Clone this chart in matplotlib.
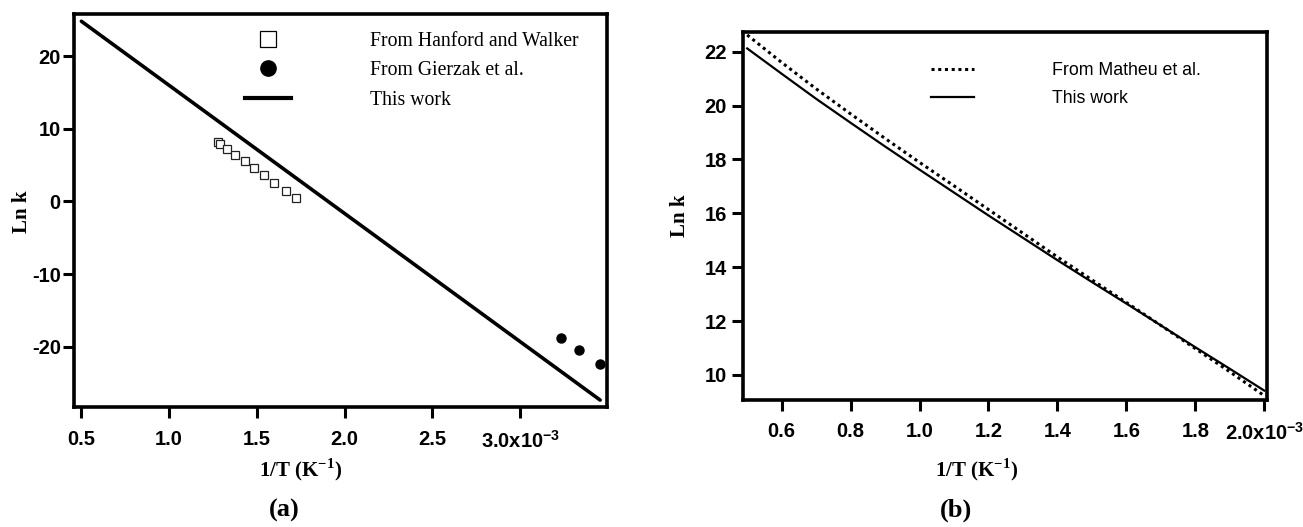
import matplotlib
matplotlib.use("Agg")
import matplotlib.pyplot as plt
from matplotlib.lines import Line2D

plt.rcParams["axes.unicode_minus"] = False

# ---- data (1/T in units of 1e-3 K^-1) ----
# panel (a)
hanford_x = [1.278, 1.288, 1.332, 1.377, 1.430, 1.481, 1.538, 1.599, 1.663, 1.720]
hanford_y = [8.18, 7.96, 7.21, 6.44, 5.61, 4.65, 3.68, 2.58, 1.48, 0.46]
gierzak_x = [3.231, 3.337, 3.453]
gierzak_y = [-18.76, -20.46, -22.34]
work_a_x = [0.5, 3.455]
work_a_y = [24.8, -27.35]
ticks_a = [0.5, 1.0, 1.5, 2.0, 2.5, 3.0]
ticklabels_a = ["0.5", "1.0", "1.5", "2.0", "2.5", "3.0x10$^{\\mathregular{-3}}$"]
yticks_a = [-20, -10, 0, 10, 20]

# panel (b)
invT_b = [0.5, 0.6, 0.7, 0.8, 0.9, 1.0, 1.1, 1.2, 1.3, 1.4, 1.5, 1.6, 1.7, 1.8, 1.9, 2.0]
matheu_y = [22.62, 21.60, 20.62, 19.69, 18.78, 17.89, 17.02, 16.14, 15.26, 14.38,
            13.53, 12.69, 11.84, 10.98, 10.12, 9.23]
work_b_y = [22.12, 21.18, 20.25, 19.36, 18.48, 17.62, 16.77, 15.92, 15.09, 14.26,
            13.45, 12.65, 11.84, 11.03, 10.23, 9.42]
ticks_b = [0.6, 0.8, 1.0, 1.2, 1.4, 1.6, 1.8, 2.0]
ticklabels_b = ["0.6", "0.8", "1.0", "1.2", "1.4", "1.6", "1.8", "2.0x10$^{\\mathregular{-3}}$"]
yticks_b = [10, 12, 14, 16, 18, 20, 22]

SANS = "Liberation Sans"
SERIF = "Liberation Serif"


def style_axes(ax, ypad):
    for s in ax.spines.values():
        s.set_linewidth(2.6)
    ax.tick_params(axis="both", which="major", direction="out", length=8, width=2.2,
                   labelsize=14.5)
    ax.tick_params(axis="x", pad=8)
    ax.tick_params(axis="y", pad=ypad)
    for lab in ax.get_xticklabels() + ax.get_yticklabels():
        lab.set_fontfamily(SANS)
        lab.set_fontweight("bold")


fig = plt.figure(figsize=(13.03, 5.27), dpi=100)

# ---------------- panel (a) ----------------
ax1 = fig.add_axes([0.0568, 0.2271, 0.4093, 0.7463])
ax1.plot(work_a_x, work_a_y, color="black", lw=2.6, solid_capstyle="round")
ax1.plot(hanford_x, hanford_y, ls="none", marker="s", ms=5.7, mfc="white",
         mec="#222222", mew=0.9)
ax1.plot(gierzak_x, gierzak_y, ls="none", marker="o", ms=6.5, color="black")
ax1.set_xlim(0.458, 3.496)
ax1.set_ylim(-28.35, 25.8)
ax1.set_xticks(ticks_a)
ax1.set_xticklabels(ticklabels_a)
ax1.set_yticks(yticks_a)
style_axes(ax1, 1.5)

handles_a = [
    Line2D([], [], ls="none", marker="s", ms=11, mfc="white", mec="black", mew=0.9),
    Line2D([], [], ls="none", marker="o", ms=11, color="black"),
    Line2D([], [], color="black", lw=3),
]
labels_a = ["From Hanford and Walker", "From Gierzak et al.", "This work"]
ax1.legend(handles_a, labels_a, loc="upper left", bbox_to_anchor=(245 / 1303, 1 - 32 / 527),
           bbox_transform=fig.transFigure, frameon=False, borderpad=0, borderaxespad=0,
           handlelength=2.35, handletextpad=4.0, labelspacing=0.52,
           prop={"family": SERIF, "size": 14.2})

fig.text(22 / 1303, 1 - 212 / 527, "Ln k", rotation=90, ha="center", va="center",
         family=SERIF, weight="bold", size=15)
fig.text(301 / 1303, 1 - 470 / 527, "1/T (K$^{\\mathregular{-1}}$)", ha="center", va="center",
         family=SERIF, weight="bold", size=15)
fig.text(284 / 1303, 1 - 510 / 527, "(a)", ha="center", va="center",
         family=SERIF, weight="bold", size=19)

# ---------------- panel (b) ----------------
ax2 = fig.add_axes([0.570, 0.241, 0.4026, 0.6988])
ax2.plot(invT_b, matheu_y, color="black", lw=2.2, ls=(0, (1, 1.2)), label="From Matheu et al.")
ax2.plot(invT_b, work_b_y, color="black", lw=1.6, label="This work")
ax2.set_xlim(0.487, 2.009)
ax2.set_ylim(9.07, 22.74)
ax2.set_xticks(ticks_b)
ax2.set_xticklabels(ticklabels_b)
ax2.set_yticks(yticks_b)
style_axes(ax2, 3.5)

ax2.legend(loc="upper left", bbox_to_anchor=(931 / 1303, 1 - 62 / 527),
           bbox_transform=fig.transFigure, frameon=False, borderpad=0, borderaxespad=0,
           handlelength=2.4, handletextpad=4.4, labelspacing=0.62,
           prop={"family": SANS, "size": 12.8})

fig.text(680 / 1303, 1 - 216 / 527, "Ln k", rotation=90, ha="center", va="center",
         family=SERIF, weight="bold", size=15)
fig.text(977 / 1303, 1 - 470 / 527, "1/T (K$^{\\mathregular{-1}}$)", ha="center", va="center",
         family=SERIF, weight="bold", size=15)
fig.text(956 / 1303, 1 - 510 / 527, "(b)", ha="center", va="center",
         family=SERIF, weight="bold", size=19)

fig.savefig("out.png", dpi=100)
